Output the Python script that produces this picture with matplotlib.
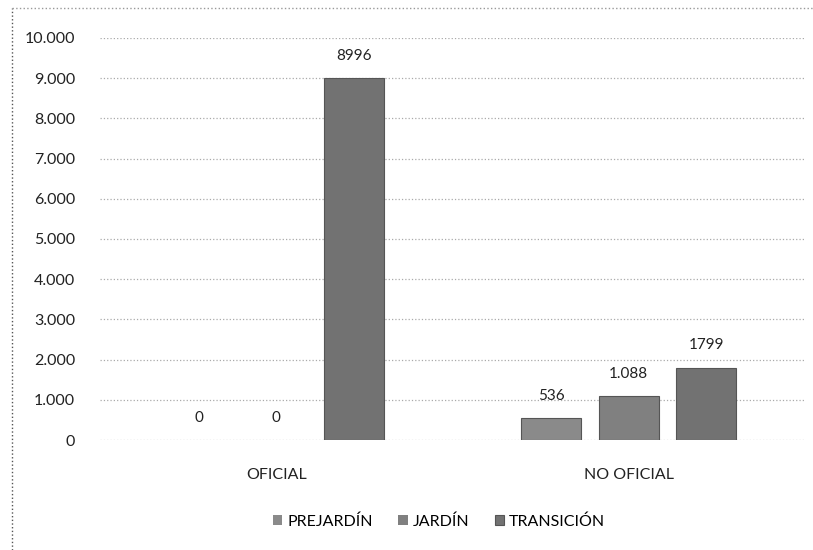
import numpy as np
import matplotlib
matplotlib.use('Agg')
import matplotlib.pyplot as plt
from matplotlib.lines import Line2D

# data
categories = ['OFICIAL', 'NO OFICIAL']
series = ['PREJARDÍN', 'JARDÍN', 'TRANSICIÓN']
prejardin = [0, 536]
jardin = [0, 1088]
transicion = [8996, 1799]
bar_labels = [['0', '536'], ['0', '1.088'], ['8996', '1799']]
yticks = [0, 1000, 2000, 3000, 4000, 5000, 6000, 7000, 8000, 9000, 10000]

plt.rcParams['font.family'] = ['Lato', 'DejaVu Sans']

fig = plt.figure(figsize=(8.13, 5.5), dpi=100)
ax = fig.add_axes([0.123, 0.2, 0.867, 0.731])

x = np.arange(len(categories))
width = 0.17
step = 0.22
colors = ['#8a8a8a', '#808080', '#727272']
values = [prejardin, jardin, transicion]

for i, (name, vals, col) in enumerate(zip(series, values, colors)):
    pos = x + (i - 1) * step
    bars = ax.bar(pos, vals, width, color=col, edgecolor='#555555',
                  linewidth=0.8, label=name, zorder=3)
    for b, lab in zip(bars, bar_labels[i]):
        # empty bars leave no outline in the original
        if b.get_height() == 0:
            b.set_linewidth(0)
        ax.annotate(lab, (b.get_x() + b.get_width() / 2, b.get_height()),
                    xytext=(0, 11), textcoords='offset points',
                    ha='center', va='bottom', fontsize=11, color='#222222')

ax.set_xlim(-0.5, 1.5)
ax.set_ylim(0, 10000)
ax.set_yticks(yticks)
ax.set_yticklabels(['{:,}'.format(v).replace(',', '.') for v in yticks],
                   fontsize=11.5, color='#222222')
ax.set_xticks(x)
ax.set_xticklabels(categories, fontsize=11.5, color='#222222')
ax.tick_params(axis='both', length=0)
ax.tick_params(axis='y', pad=18)
ax.tick_params(axis='x', pad=20)
ax.grid(axis='y', linestyle=':', color='#aaaaaa', linewidth=0.9, zorder=0)
for s in ax.spines.values():
    s.set_visible(False)

handles, labels = ax.get_legend_handles_labels()
fig.legend(handles, labels, loc='center', bbox_to_anchor=(0.54, 0.052),
           ncol=3, frameon=False, fontsize=11.5, handlelength=0.6,
           handleheight=0.6, handletextpad=0.3, columnspacing=1.6)

# dotted chart frame (left and top edges visible in the scan)
fig.add_artist(Line2D([0.015, 0.015], [0.0, 0.985], transform=fig.transFigure,
                      color='#555555', linestyle=':', linewidth=1))
fig.add_artist(Line2D([0.015, 1.0], [0.985, 0.985], transform=fig.transFigure,
                      color='#999999', linestyle=':', linewidth=1))

fig.savefig('out.png', dpi=100)
